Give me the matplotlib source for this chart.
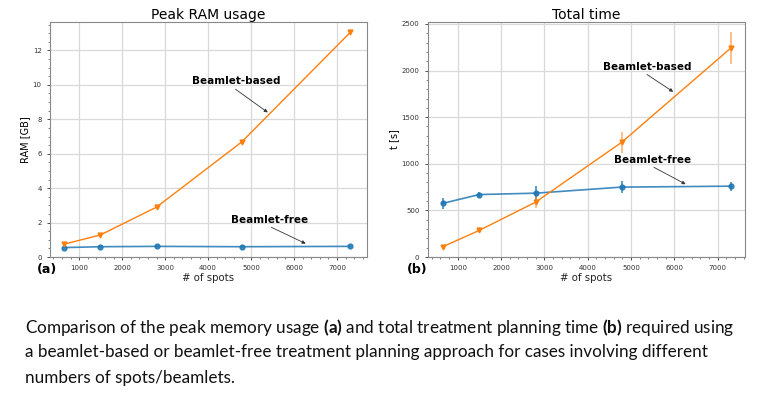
import matplotlib
matplotlib.use('Agg')
import matplotlib.pyplot as plt
from matplotlib.ticker import AutoMinorLocator

spots = [650, 1490, 2800, 4780, 7310]

ram_based = [0.75, 1.28, 2.9, 6.68, 13.05]
ram_free = [0.55, 0.6, 0.62, 0.6, 0.62]

time_based = [110, 285, 590, 1230, 2245]
time_based_err = [20, 20, 60, 110, 170]
time_free = [575, 670, 685, 750, 760]
time_free_err = [60, 25, 80, 65, 50]

caption = [
    r'Comparison of the peak memory usage $\mathbf{(a)}$ and total treatment planning time $\mathbf{(b)}$ required using',
    'a beamlet-based or beamlet-free treatment planning approach for cases involving different',
    'numbers of spots/beamlets.',
]

plt.rcParams['mathtext.fontset'] = 'custom'
plt.rcParams['mathtext.rm'] = 'Lato'
plt.rcParams['mathtext.bf'] = 'Lato:bold'

blue = '#1f77b4'
orange = '#ff7f0e'

fig = plt.figure(figsize=(7.68, 4.01), dpi=100)
ax1 = fig.add_axes([0.0651, 0.359, 0.4128, 0.586])
ax2 = fig.add_axes([0.557, 0.359, 0.4128, 0.586])


def style(ax):
    ax.grid(True, color='#d9d9d9', lw=0.9)
    ax.set_axisbelow(True)
    for s in ax.spines.values():
        s.set_color('#888888')
    ax.tick_params(labelsize=5, length=2.5, width=0.6, colors='#333333')
    ax.tick_params(which='minor', length=1.5, width=0.5, colors='#555555')
    ax.xaxis.set_minor_locator(AutoMinorLocator())
    ax.yaxis.set_minor_locator(AutoMinorLocator())
    ax.set_xlabel('# of spots', fontsize=7.3, labelpad=1, color='#222222')


def label(ax, txt, tip, pos):
    ax.annotate(txt, xy=tip, xytext=pos, fontsize=7.5, fontweight='bold', va='center',
                arrowprops=dict(arrowstyle='-|>', color='#333333', lw=0.6,
                                mutation_scale=5, shrinkA=0, shrinkB=0,
                                relpos=(0.45, 0.0)))


# (a) peak RAM
ax1.plot(spots, ram_free, marker='o', ms=3.5, color=blue, lw=1.2, alpha=0.85)
ax1.plot(spots, ram_based, marker='v', ms=3.5, color=orange, lw=1.0)
ax1.set_xlim(319, 7700)
ax1.set_ylim(0, 13.65)
ax1.set_xticks([1000, 2000, 3000, 4000, 5000, 6000, 7000])
ax1.set_yticks([0, 2, 4, 6, 8, 10, 12])
ax1.set_title('Peak RAM usage', fontsize=10, pad=2)
ax1.set_ylabel('RAM [GB]', fontsize=7, labelpad=2)
style(ax1)
label(ax1, 'Beamlet-based', (5389, 8.4), (3621, 10.2))
label(ax1, 'Beamlet-free', (6272, 0.78), (4528, 2.18))
fig.text(37 / 768, 1 - 270 / 401, '(a)', fontsize=9, fontweight='bold', va='center')

# (b) total time
ax2.errorbar(spots, time_free, yerr=time_free_err, marker='o', ms=3.5, color=blue,
             lw=1.2, alpha=0.85, elinewidth=1.2)
ax2.errorbar(spots, time_based, yerr=time_based_err, marker='v', ms=3.5, color=orange,
             lw=1.0, elinewidth=1.2, ecolor=(1.0, 0.5, 0.05, 0.6))
ax2.set_xlim(307, 7623)
ax2.set_ylim(0, 2520)
ax2.set_xticks([1000, 2000, 3000, 4000, 5000, 6000, 7000])
ax2.set_yticks([0, 500, 1000, 1500, 2000, 2500])
ax2.set_title('Total time', fontsize=10, pad=2)
ax2.set_ylabel('t [s]', fontsize=7, labelpad=2)
style(ax2)
label(ax2, 'Beamlet-based', (5970, 1772), (4349, 2041))
label(ax2, 'Beamlet-free', (6258, 781), (4603, 1046))
fig.text(407 / 768, 1 - 270 / 401, '(b)', fontsize=9, fontweight='bold', va='center')

# caption
for i, line in enumerate(caption):
    fig.text(25 / 768, 1 - (327 + 25.5 * i) / 401, line, fontsize=12.3, family='Lato',
             va='center', color='#111111')

fig.savefig('out.png', dpi=100)
